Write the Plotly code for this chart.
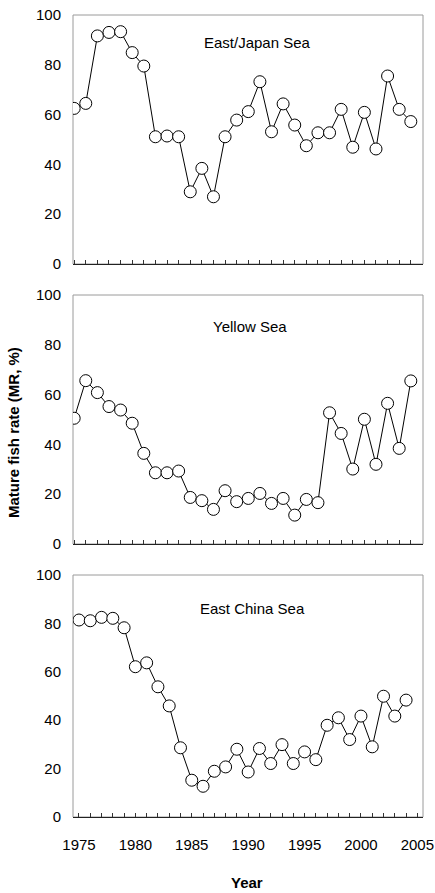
import plotly.graph_objects as go

years = list(range(1975, 2005))
east_japan = [62.5, 64.5, 91.6, 93.0, 93.3, 84.9, 79.5, 51.1, 51.4, 51.1,
              29.0, 38.4, 27.0, 51.1, 57.8, 61.2, 73.2, 53.1, 64.3, 55.8,
              47.5, 52.7, 52.7, 62.1, 46.9, 60.9, 46.2, 75.5, 62.1, 57.2]
yellow = [50.5, 65.6, 60.8, 55.2, 53.8, 48.5, 36.4, 28.6, 28.6, 29.3,
          18.7, 17.4, 13.9, 21.4, 17.0, 18.3, 20.3, 16.3, 18.3, 11.6,
          17.9, 16.6, 52.7, 44.4, 30.1, 50.1, 32.0, 56.5, 38.4, 65.5]
east_china = [81.4, 81.1, 82.5, 82.1, 78.2, 62.1, 63.7, 53.8, 45.9, 28.6,
              15.2, 12.7, 18.9, 20.7, 28.0, 18.6, 28.3, 22.1, 29.9, 22.1,
              26.9, 23.7, 37.9, 41.0, 32.0, 41.7, 29.0, 49.9, 41.7, 48.3]
panel_titles = ["East/Japan Sea", "Yellow Sea", "East China Sea"]
y_ticks = [0, 20, 40, 60, 80, 100]
x_ticks = [1975, 1980, 1985, 1990, 1995, 2000, 2005]

W, H = 435, 893
def py(p):
    return 1 - p / H

x_dom = [73 / W, 423 / W]
y_doms = [[py(264), py(15)], [py(544), py(295)], [py(817), py(575)]]
x_ranges = [[1974.9, 2005.05], [1974.9, 2005.05], [1974.47, 2005.5]]
title_pos = [(257, 43), (250, 327), (252, 608)]

fig = go.Figure()
series = [east_japan, yellow, east_china]
font = "Liberation Sans, Arial, sans-serif"

for i, vals in enumerate(series):
    n = i + 1
    xa = "x" if n == 1 else f"x{n}"
    ya = "y" if n == 1 else f"y{n}"
    fig.add_trace(go.Scatter(
        x=years, y=vals, mode="lines+markers", xaxis=xa, yaxis=ya,
        line=dict(color="black", width=1),
        marker=dict(symbol="circle", size=12, color="white",
                    line=dict(color="black", width=1)),
        showlegend=False))
    xkey = "xaxis" if n == 1 else f"xaxis{n}"
    ykey = "yaxis" if n == 1 else f"yaxis{n}"
    fig.layout[xkey] = dict(
        domain=x_dom, anchor=ya, range=x_ranges[i],
        tickmode="array", tickvals=x_ticks,
        showticklabels=(n == 3), ticks="inside", ticklen=4,
        tickcolor="#333", tickwidth=1,
        minor=dict(ticks="inside", ticklen=4, dtick=1, tick0=1975,
                   tickcolor="#333", tickwidth=1),
        showgrid=False, zeroline=False, showline=True,
        linecolor="#222", linewidth=1,
        tickfont=dict(family=font, size=15, color="black"),
        ticklabelstandoff=14, automargin=False)
    fig.layout[ykey] = dict(
        domain=y_doms[i], anchor=xa, range=[0, 100],
        tickmode="array", tickvals=y_ticks,
        ticks="", showgrid=False, zeroline=False, showline=False,
        tickfont=dict(family=font, size=15, color="black"),
        ticklabelstandoff=11, automargin=False)
    fig.add_shape(type="rect", xref=f"{xa} domain", yref=f"{ya} domain",
                  x0=0, x1=1, y0=0, y1=1,
                  line=dict(color="#9a9a9a", width=1), layer="below")
    tx, ty = title_pos[i]
    fig.add_annotation(text=panel_titles[i], x=tx / W, y=py(ty),
                       xref="paper", yref="paper", showarrow=False,
                       xanchor="center", yanchor="middle",
                       font=dict(family=font, size=15, color="black"))

fig.add_annotation(text="<b>Mature fish rate (MR, %)</b>", x=14 / W, y=py(433),
                   xref="paper", yref="paper", showarrow=False, textangle=-90,
                   xanchor="center", yanchor="middle",
                   font=dict(family=font, size=15, color="black"))
fig.add_annotation(text="<b>Year</b>", x=247 / W, y=py(882),
                   xref="paper", yref="paper", showarrow=False,
                   xanchor="center", yanchor="middle",
                   font=dict(family=font, size=15, color="black"))

fig.update_layout(width=W, height=H, margin=dict(l=0, r=0, t=0, b=0),
                  paper_bgcolor="white", plot_bgcolor="white")
fig.write_html("out.html")
